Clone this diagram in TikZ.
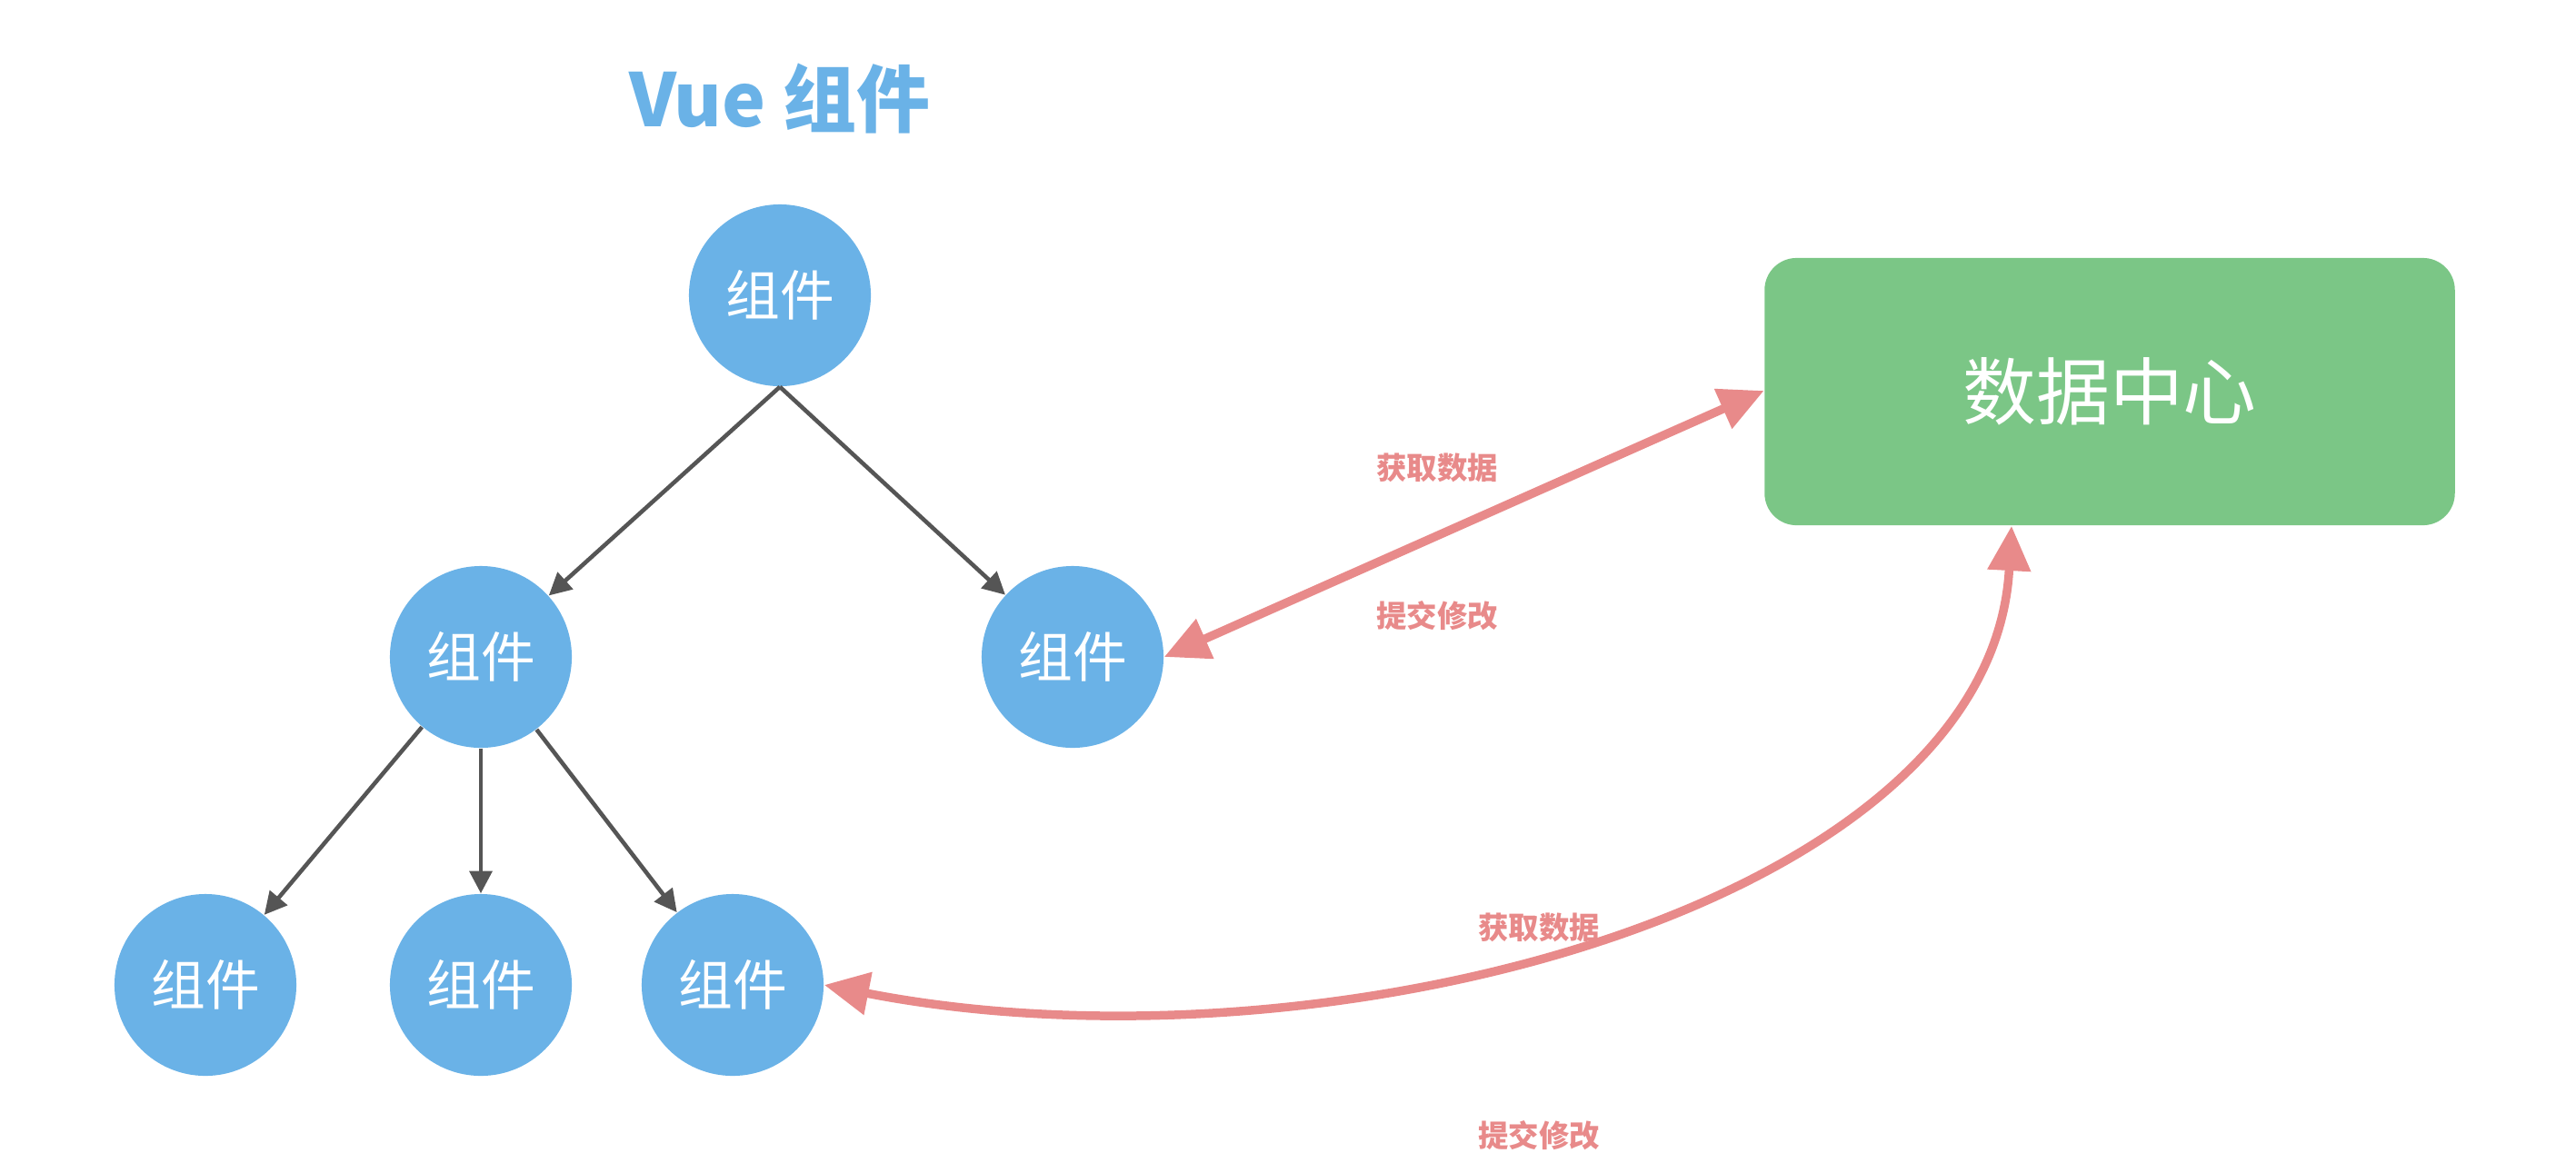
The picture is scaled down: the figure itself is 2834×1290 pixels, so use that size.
\documentclass[tikz,border=0pt]{standalone}
\usepackage{fontspec}
\setmainfont{Noto Sans CJK SC}
\usetikzlibrary{arrows.meta,positioning}
\definecolor{vueblue}{HTML}{6AB2E7}
\definecolor{hubgreen}{HTML}{7BC686}
\definecolor{flowpink}{HTML}{E88A8A}
\definecolor{edgegray}{HTML}{555555}
\begin{document}
\begin{tikzpicture}[
                x=0.01cm,y=-0.01cm,
                comp/.style={circle,fill=vueblue,text=white,minimum size=2cm,inner sep=0pt,font=\fontsize{17}{20}\selectfont},
                tree/.style={edgegray,line width=1.3pt,-{Triangle[length=7pt,width=7pt]}},
                flow/.style={flowpink,line width=2.7pt,{Triangle[length=14pt,width=13pt]}-{Triangle[length=14pt,width=13pt]}},
                flowlabel/.style={flowpink,font=\bfseries\fontsize{9.5}{11}\selectfont}
            ]
                \useasboundingbox (0,0) rectangle (2834,1290);

                \node[text=vueblue,font=\bfseries\fontsize{23}{27}\selectfont] (title) at (858,108) {Vue 组件};

                \node[comp] (top) at (858,325) {组件};
                \node[comp] (ml) at (529,723) {组件};
                \node[comp] (mr) at (1180,723) {组件};
                \node[comp] (b1) at (226,1084) {组件};
                \node[comp] (b2) at (529,1084) {组件};
                \node[comp] (b3) at (806,1084) {组件};

                \node[fill=hubgreen,rounded corners=10pt,minimum width=7.59cm,minimum height=2.94cm,text=white,font=\fontsize{23}{27}\selectfont] (hub) at (2321,431) {数据中心};

                \draw [tree] (top.south) -- (ml);
                \draw [tree] (top.south) -- (mr);
                \draw [tree] (ml) -- (b1);
                \draw [tree] (ml) -- (b2);
                \draw [tree] (ml) -- (b3);

                \draw [flow] (mr.east) -- (hub.west |- 0,430);
                \node[flowlabel] (get1) at (1581,515) {获取数据};
                \node[flowlabel] (put1) at (1581,678) {提交修改};

                \draw [flow] (b3.east) .. controls (1450,1190) and (2190,1000) .. (hub.south -| 2213,0);
                \node[flowlabel] (get2) at (1693,1021) {获取数据};
                \node[flowlabel] (put2) at (1693,1250) {提交修改};
            \end{tikzpicture}
\end{document}
